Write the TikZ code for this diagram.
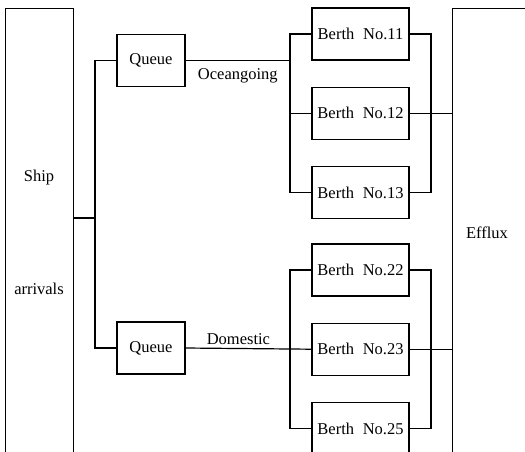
\documentclass[tikz,border=0pt]{standalone}
\usepackage{fontspec}
\setmainfont{Liberation Serif}
\usepackage{tikz}
\usetikzlibrary{shapes,arrows,positioning}

\begin{document}
\begin{tikzpicture}[x=1pt, y=-1pt, node distance=26pt, line width=1.2pt,
    font=\fontsize{16.5}{19}\selectfont,
    queue/.style={draw, rectangle, minimum width=68pt, minimum height=52pt, inner sep=0pt},
    berth/.style={draw, rectangle, minimum width=97pt, minimum height=52pt, inner sep=0pt}]
    \useasboundingbox (0,0) rectangle (525,451);

    % tall boxes, open at the bottom
    \node[draw, rectangle, minimum width=68pt, minimum height=470pt, anchor=north west] (ship) at (5,8) {};
    \node[draw, rectangle, minimum width=100pt, minimum height=470pt, anchor=north west] (efflux) at (452,8) {};
    \node (shiptxt) at (39,178) {Ship};
    \node (arrtxt) at (39,289) {arrivals};
    \node (effluxtxt) at (487,233) {Efflux};

    \node[queue] (q1) at (151,60.5) {Queue};
    \node[queue] (q2) at (151,348) {Queue};

    \node[berth] (b11) at (360.5,34) {Berth\; No.11};
    \node[berth, below=of b11] (b12) {Berth\; No.12};
    \node[berth, below=of b12] (b13) {Berth\; No.13};
    \node[berth] (b22) at (360.5,270) {Berth\; No.22};
    \node[berth, below=of b22] (b23) {Berth\; No.23};
    \node[berth, below=of b23] (b25) {Berth\; No.25};

    \coordinate (split) at (95,218);
    \coordinate (oc) at (290,60.5);
    \coordinate (oe) at (431,112);
    \coordinate (dc) at (290,348);
    \coordinate (de) at (431,348);

    \draw (ship.east |- split) -- (split);
    \draw (q1.west) -| (split) |- (q2.west);

    \draw (q1.east) -- node[below=4pt] {Oceangoing} (oc);
    \draw (b11.west) -| (oc) |- (b13.west);
    \draw (b12.west) -- (b12.west -| oc);
    \draw (b11.east) -| (oe) |- (b13.east);
    \draw (b12.east) -- (efflux.west |- b12.east);

    \draw (q2.east) -- node[above, pos=0.42] {Domestic} (b23.west);
    \draw (b22.west) -| (dc) |- (b25.west);
    \draw (b22.east) -| (de) |- (b25.east);
    \draw (b23.east) -- (efflux.west |- b23.east);
\end{tikzpicture}
\end{document}
